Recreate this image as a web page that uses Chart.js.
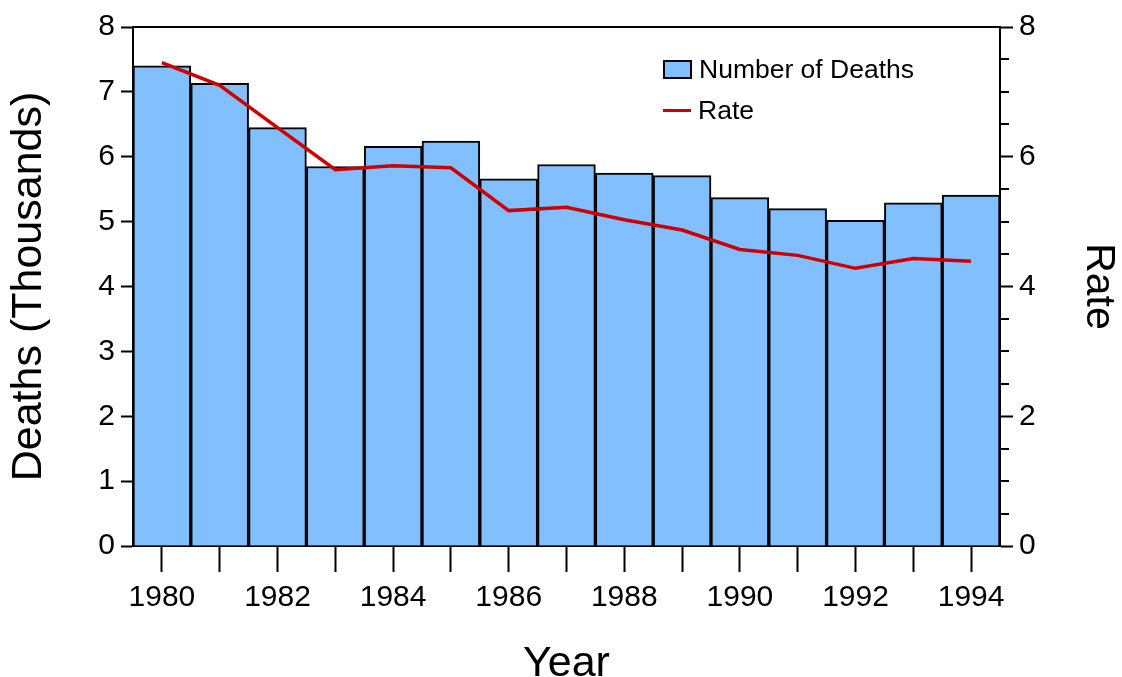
<!DOCTYPE html>
<html>
<head>
<meta charset="utf-8">
<script src="https://cdn.jsdelivr.net/npm/chart.js@4/dist/chart.umd.min.js"></script>
<style>
  html, body { margin: 0; padding: 0; background: #fff; }
  #wrap { position: relative; width: 1122px; height: 677px; }
  #legend {
    position: absolute; left: 663px; top: 49px;
    font-family: "Liberation Sans", Arial, sans-serif; font-size: 26.5px; color: #000;
  }
  .lg-row { display: flex; align-items: center; height: 41px; }
  .lg-box { width: 25px; height: 15px; border: 2px solid #000; margin-right: 7px; }
  .lg-line { width: 28px; height: 3px; margin-right: 7px; }
</style>
</head>
<body>
<div id="wrap">
  <canvas id="c" width="1122" height="677"></canvas>
  <div id="legend"></div>
</div>
<script>
// 年份與數值
const years = ["1980", "1981", "1982", "1983", "1984", "1985", "1986", "1987",
  "1988", "1989", "1990", "1991", "1992", "1993", "1994"];
const deaths = [7.40, 7.13, 6.45, 5.85, 6.16, 6.24, 5.66, 5.88, 5.75, 5.71, 5.37, 5.20, 5.02, 5.29, 5.41];
const rate = [7.45, 7.10, 6.45, 5.80, 5.86, 5.83, 5.17, 5.22, 5.03, 4.87, 4.57, 4.48, 4.28, 4.43, 4.39];
const rateTicks = [0, 2, 4, 6, 8];

const FONT = "'Liberation Sans', Arial, sans-serif";
const BAR_COLOR = "#82bfff";
const LINE_COLOR = "#cc0000";

// 右軸的小刻度 + 上框線
const framePlugin = {
  id: "frame",
  afterDraw(chart) {
    const { ctx, chartArea } = chart;
    const y1 = chart.scales.y1;
    ctx.save();
    ctx.strokeStyle = "#000";
    ctx.lineWidth = 2;
    ctx.beginPath();
    ctx.moveTo(chartArea.left - 1, chartArea.top);
    ctx.lineTo(chartArea.right + 1, chartArea.top);
    for (let v = 0; v <= 8; v += 0.5) {
      if (rateTicks.includes(v)) continue;
      const py = Math.round(y1.getPixelForValue(v));
      ctx.moveTo(y1.left, py);
      ctx.lineTo(y1.left + 9, py);
    }
    ctx.stroke();
    ctx.restore();
  }
};

const chart = new Chart(document.getElementById("c"), {
  type: "bar",
  data: {
    labels: years,
    datasets: [
      {
        type: "line",
        label: "Rate",
        data: rate,
        yAxisID: "y1",
        borderColor: LINE_COLOR,
        borderWidth: 3.5,
        pointRadius: 0,
        tension: 0,
        order: 0
      },
      {
        label: "Number of Deaths",
        data: deaths,
        yAxisID: "y",
        backgroundColor: BAR_COLOR,
        borderColor: "#000",
        borderWidth: 2,
        barPercentage: 1,
        categoryPercentage: 1,
        order: 1
      }
    ]
  },
  options: {
    responsive: false,
    animation: false,
    layout: { padding: { top: 27, left: 0, right: 0, bottom: 0 } },
    plugins: { legend: { display: false }, tooltip: { enabled: false } },
    scales: {
      x: {
        grid: { display: true, offset: false, drawOnChartArea: false, tickLength: 26, tickWidth: 2, tickColor: "#000" },
        border: { display: true, color: "#000", width: 2 },
        ticks: {
          autoSkip: false, maxRotation: 0, padding: 8, color: "#000",
          font: { family: FONT, size: 30 },
          callback: (v, i) => (i % 2 === 0 ? years[i] : "")
        },
        title: { display: true, text: "Year", color: "#000", font: { family: FONT, size: 43, lineHeight: 0.6 }, padding: { top: 0, bottom: 0 } },
        afterFit: (s) => { s.height = 131; }
      },
      y: {
        position: "left",
        min: 0, max: 8,
        grid: { display: true, drawOnChartArea: false, tickLength: 12, tickWidth: 2, tickColor: "#000" },
        border: { display: true, color: "#000", width: 2 },
        ticks: {
          stepSize: 0.5, padding: 6, color: "#000",
          font: { family: FONT, size: 30 },
          callback: (v) => (v % 1 === 0 ? v : "")
        },
        title: { display: true, text: "Deaths (Thousands)", color: "#000", font: { family: FONT, size: 43, lineHeight: 1 }, padding: { top: 8, bottom: 0 } },
        afterFit: (s) => { s.width = 133; }
      },
      y1: {
        position: "right",
        min: 0, max: 8,
        grid: { display: true, drawOnChartArea: false, tickLength: 13, tickWidth: 2, tickColor: "#000" },
        border: { display: true, color: "#000", width: 2 },
        ticks: {
          stepSize: 2, padding: 6, color: "#000",
          font: { family: FONT, size: 30 }
        },
        title: { display: true, text: "Rate", color: "#000", font: { family: FONT, size: 41, lineHeight: 1 }, padding: { top: 3, bottom: 0 } },
        afterFit: (s) => { s.width = 122; }
      }
    }
  },
  plugins: [framePlugin]
});

// HTML 圖例
const legend = document.getElementById("legend");
legend.innerHTML = `
  <div class="lg-row"><span class="lg-box" style="background:${BAR_COLOR}"></span>Number of Deaths</div>
  <div class="lg-row"><span class="lg-line" style="background:${LINE_COLOR}"></span>Rate</div>
`;
</script>
</body>
</html>
